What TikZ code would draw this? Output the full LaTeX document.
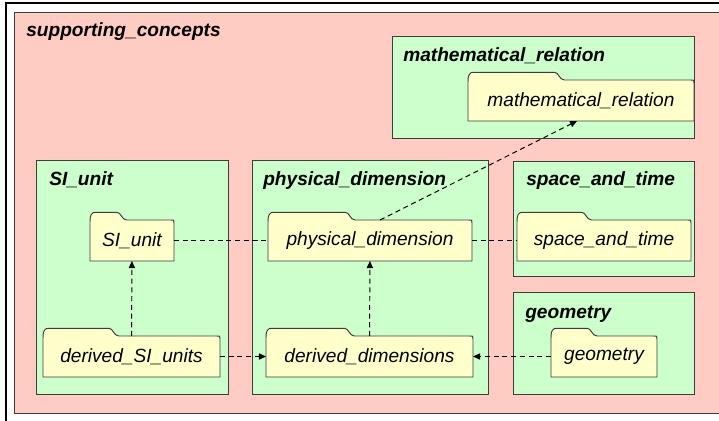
\documentclass[tikz,border=0pt]{standalone}
\usepackage{fontspec}
\setmainfont{Liberation Sans}
\usetikzlibrary{arrows.meta,positioning,calc}
\pgfdeclarelayer{background}
\pgfdeclarelayer{folders}
\pgfsetlayers{background,folders,main}
\definecolor{pkgpink}{RGB}{255,204,196}
\definecolor{pkggreen}{RGB}{204,255,204}
\definecolor{pkgyellow}{RGB}{255,255,204}
\definecolor{pkgline}{RGB}{60,60,60}

\begin{document}
\begin{tikzpicture}[
	pkg/.style={draw=pkgline,line width=0.7pt},
	ttl/.style={anchor=base west,inner sep=0pt,font=\fontsize{13.6}{16}\selectfont\bfseries\itshape},
	folder/.style={minimum height=1.025cm,inner sep=0pt,outer sep=0pt,font=\fontsize{13.6}{16}\selectfont\itshape},
	link/.style={line width=0.7pt,dash pattern=on 3.6pt off 2.6pt},
	dep/.style={link,-{Triangle[length=5pt,width=4.4pt]}}
	]
	\clip (0,0) rectangle (17.975,10.5);
	\begin{pgfonlayer}{background}
		\draw[line width=0.8pt] (0.15,-1) rectangle (19,10.425);
		\draw[pkg,fill=pkgpink] (0.35,0.175) rectangle (18.6,10.2);
		\node[ttl] (t_sc) at (0.65,9.575) {supporting\_concepts};
		
		\draw[pkg,fill=pkggreen] (0.9,0.65) rectangle (5.7,6.5);
		\node[ttl] (t_si) at (1.225,5.85) {SI\_unit};
		\draw[pkg,fill=pkggreen] (6.3,0.65) rectangle (12.2,6.5);
		\node[ttl] (t_pd) at (6.575,5.85) {physical\_dimension};
		\draw[pkg,fill=pkggreen] (9.8,7.05) rectangle (17.35,9.6);
		\node[ttl] (t_mr) at (10.075,8.95) {mathematical\_relation};
		\draw[pkg,fill=pkggreen] (12.825,3.6) rectangle (17.35,6.475);
		\node[ttl] (t_st) at (13.15,5.85) {space\_and\_time};
		\draw[pkg,fill=pkggreen] (12.825,0.65) rectangle (17.35,3.2);
		\node[ttl] (t_geo) at (13.125,2.55) {geometry};
	\end{pgfonlayer}
	
	% folders
	\node[folder,minimum width=2.1cm] (si) at (3.3,4.4875) {SI\_unit};
	\node[folder,minimum width=5.1cm] (pd) at (9.25,4.4875) {physical\_dimension};
	\node[folder,minimum width=4.35cm] (st) at (15.1,4.4875) {space\_and\_time};
	\node[folder,minimum width=4.425cm] (dsi) at (3.2875,1.5875) {derived\_SI\_units};
	\node[folder,minimum width=5.175cm] (dd) at (9.2375,1.5875) {derived\_dimensions};
	\node[folder,minimum width=2.65cm] (geo) at (15.1,1.5875) {geometry};
	\node[folder,minimum width=5.65cm] (mr) at (14.525,7.9875) {mathematical\_relation};
	
	\begin{pgfonlayer}{folders}
		\foreach \f in {si,pd,st,dsi,dd,geo,mr}
		\filldraw[pkg,fill=pkgyellow]
		let \p1=(\f.north west), \p2=(\f.south east), \n1={0.42*(\x2-\x1)} in
		(\x1,\y2) -- (\x1,\y1-1pt) .. controls (\x1,\y1+3.5pt) and (\x1+1pt,\y1+5.5pt) .. (\x1+4pt,\y1+5.5pt)
		-- (\x1+\n1-6pt,\y1+5.5pt) .. controls (\x1+\n1-3pt,\y1+5.5pt) and (\x1+\n1-2.5pt,\y1) .. (\x1+\n1+1pt,\y1)
		-- (\x2-2.5pt,\y1) .. controls (\x2,\y1) .. (\x2,\y1-2pt) -- (\x2,\y2) -- cycle;
	\end{pgfonlayer}
	
	% dependencies
	\draw[link] (si) -- (pd);
	\draw[link] (pd) -- (st);
	\draw[dep] (dsi) -- (si);
	\draw[dep] (dsi) -- (dd);
	\draw[dep] (dd) -- (pd);
	\draw[dep] (geo) -- (dd);
	\draw[dep] ([xshift=0.25cm]pd.north) -- ([xshift=-0.1cm]mr.south);
\end{tikzpicture}
\end{document}
